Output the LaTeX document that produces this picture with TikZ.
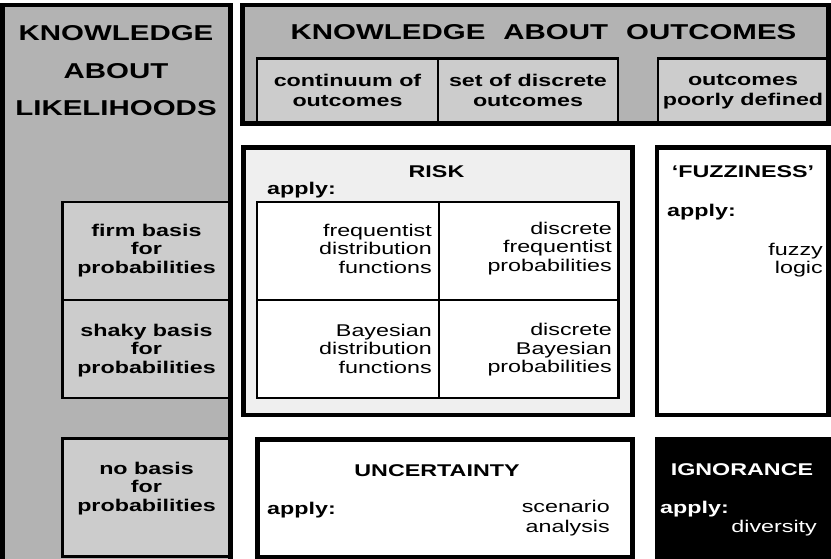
\documentclass[tikz,border=0pt]{standalone}
\usepackage{fontspec}
\setmainfont{Liberation Sans}[FakeStretch=1.37]
\definecolor{panelgray}{HTML}{B3B3B3}
\definecolor{subgray}{HTML}{CCCCCC}
\definecolor{riskfill}{HTML}{EFEFEF}
% rectangle node given by its corner coordinates: name, x1, y1, x2, y2, style
\newcommand{\boxnode}[6]{%
  \node[#6, anchor=north west, inner sep=0pt, outer sep=0pt,
        minimum width={#4-#2}, minimum height={#5-#3}] (#1) at (#2,#3) {};}
\begin{document}
\begin{tikzpicture}[x=1pt,y=-1pt,
  thickbox/.style={draw=black,line width=4.5pt},
  thinbox/.style={draw=black,line width=2.5pt},
  bigtxt/.style={font=\fontsize{21.5}{26}\selectfont\bfseries, inner sep=0pt},
  lbl/.style={font=\fontsize{17}{18.5}\selectfont\bfseries, inner sep=0pt, align=center},
  celltxt/.style={font=\fontsize{17}{18.5}\selectfont, inner sep=0pt, align=right, anchor=east},
  applytxt/.style={font=\fontsize{17}{18.5}\selectfont\bfseries, inner sep=0pt, anchor=west},
]
\useasboundingbox (0,0) rectangle (831,558);

% knowledge about likelihoods (left column)
\boxnode{lik}{2.5}{5}{230.5}{566}{thickbox, fill=panelgray}
\boxnode{firm}{62.5}{202}{230.5}{300}{thinbox, fill=subgray}
\boxnode{shaky}{62.5}{300}{230.5}{398}{thinbox, fill=subgray}
\boxnode{nobasis}{62.5}{438.5}{230.5}{556.5}{thinbox, fill=subgray}
\draw[thickbox] (lik.north west) rectangle (lik.south east);

% knowledge about outcomes (header)
\boxnode{out}{242.5}{5}{828.5}{123.5}{thickbox, fill=panelgray}
\boxnode{cont}{257}{58.5}{438}{123.5}{thinbox, fill=subgray}
\boxnode{disc}{438}{58.5}{618}{123.5}{thinbox, fill=subgray}
\boxnode{poor}{658}{58.5}{828.5}{123.5}{thinbox, fill=subgray}
\draw[thickbox] (out.north west) rectangle (out.south east);

% risk with its four cells
\boxnode{risk}{243.5}{147.5}{632.5}{415}{thickbox, fill=riskfill}
\boxnode{c11}{257}{202}{439}{300}{thinbox, fill=white}
\boxnode{c12}{439}{202}{618.5}{300}{thinbox, fill=white}
\boxnode{c21}{257}{300}{439}{398}{thinbox, fill=white}
\boxnode{c22}{439}{300}{618.5}{398}{thinbox, fill=white}

% fuzziness, uncertainty, ignorance
\boxnode{fuzz}{657}{147.5}{828.5}{415}{thickbox, fill=white}
\boxnode{unc}{257.5}{439.5}{632.5}{557}{thickbox, fill=white}
\boxnode{ign}{655}{437}{831}{560}{draw=black, fill=black}

% column and header titles
\node[bigtxt] (tk) at (116,33.5) {KNOWLEDGE};
\node[bigtxt] (ta) at (116,71.5) {ABOUT};
\node[bigtxt] (tl) at (116,108.5) {LIKELIHOODS};
\node[bigtxt] (tout) at (543.5,32.5) {KNOWLEDGE\hspace{18pt}ABOUT\hspace{18pt}OUTCOMES};

% outcome categories
\node[lbl] (lcont) at (347.5,90.5) {continuum of\\[1.5pt]outcomes};
\node[lbl] (ldisc) at (528,90.5) {set of discrete\\[1.5pt]outcomes};
\node[lbl] (lpoor) at (743,92) {outcomes\\[1.5pt]poorly defined};

% likelihood categories
\node[lbl] (lfirm) at (146.5,250.5) {firm basis\\for\\probabilities};
\node[lbl] (lshaky) at (146.5,350.5) {shaky basis\\for\\probabilities};
\node[lbl] (lno) at (146.5,488.5) {no basis\\for\\probabilities};

% risk
\node[lbl] (trisk) at (436.5,171.5) {RISK};
\node[applytxt] (arisk) at (267,190.5) {apply:};
\node[celltxt] (x11) at (432,248.7) {frequentist\\distribution\\functions};
\node[celltxt] (x12) at (612,248.5) {discrete\\frequentist\\probabilities};
\node[celltxt] (x21) at (432,348.7) {Bayesian\\distribution\\functions};
\node[celltxt] (x22) at (612,350) {discrete\\Bayesian\\probabilities};

% fuzziness
\node[lbl] (tfuzz) at (743,171.5) {‘FUZZINESS’};
\node[applytxt] (afuzz) at (667,212) {apply:};
\node[celltxt] (xfuzz) at (823,260) {fuzzy\\logic};

% uncertainty
\node[lbl] (tunc) at (437,470.5) {UNCERTAINTY};
\node[applytxt] (aunc) at (267,510) {apply:};
\node[celltxt] (xunc) at (610,518.4) {scenario\\[1.5pt]analysis};

% ignorance
\node[lbl, text=white] (tign) at (742,470) {IGNORANCE};
\node[applytxt, text=white] (aign) at (660,509) {apply:};
\node[celltxt, text=white] (xign) at (817,528) {diversity};
\end{tikzpicture}
\end{document}
